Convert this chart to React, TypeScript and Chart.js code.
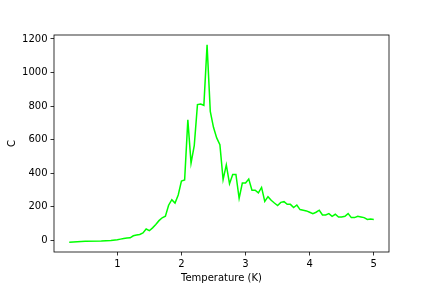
import React, { useEffect, useRef } from "react";
import { Chart, registerables } from "chart.js";

Chart.register(...registerables);

const temperatures = [
  0.25, 0.5, 0.75, 0.9, 1.0, 1.05, 1.1, 1.15, 1.2, 1.25, 1.3, 1.35, 1.4, 1.45, 1.5,
  1.55, 1.6, 1.65, 1.7, 1.75, 1.8, 1.85, 1.9, 1.95, 2.0, 2.05, 2.1, 2.15, 2.2, 2.25,
  2.3, 2.35, 2.4, 2.45, 2.5, 2.55, 2.6, 2.65, 2.7, 2.75, 2.8, 2.85, 2.9, 2.95, 3.0,
  3.05, 3.1, 3.15, 3.2, 3.25, 3.3, 3.35, 3.4, 3.45, 3.5, 3.55, 3.6, 3.65, 3.7, 3.75,
  3.8, 3.85, 3.9, 3.95, 4.0, 4.05, 4.1, 4.15, 4.2, 4.25, 4.3, 4.35, 4.4, 4.45, 4.5,
  4.55, 4.6, 4.65, 4.7, 4.75, 4.8, 4.85, 4.9, 4.95, 5.0,
];

const heatCapacity = [
  -10, -5, -3, 0, 4, 8, 12, 14, 16, 28, 32, 36, 45, 68, 58,
  75, 95, 118, 135, 145, 210, 243, 223, 271, 354, 360, 718, 461, 565, 809,
  813, 805, 1165, 769, 674, 611, 571, 362, 450, 338, 393, 393, 251, 342, 342,
  366, 299, 299, 283, 316, 233, 261, 239, 223, 208, 227, 231, 215, 215, 196,
  211, 184, 180, 176, 168, 160, 168, 180, 152, 152, 160, 144, 156, 140, 140,
  144, 160, 136, 136, 144, 140, 136, 125, 128, 125,
];

const xTicks = [1, 2, 3, 4, 5];
const yTicks = [0, 200, 400, 600, 800, 1000, 1200];

const frame = {
  id: "frame",
  afterDraw(chart: any) {
    const { ctx, chartArea } = chart;
    ctx.save();
    ctx.strokeStyle = "#000";
    ctx.lineWidth = 0.8;
    ctx.strokeRect(chartArea.left, chartArea.top, chartArea.right - chartArea.left, chartArea.bottom - chartArea.top);
    ctx.restore();
  },
};

export default function App() {
  const ref = useRef<HTMLCanvasElement>(null);
  useEffect(() => {
    const font = { family: "DejaVu Sans", size: 10 };
    const chart = new Chart(ref.current!, {
      type: "line",
      data: {
        datasets: [
          {
            data: temperatures.map((t, i) => ({ x: t, y: heatCapacity[i] })),
            borderColor: "#00ff00",
            borderWidth: 1.5,
            pointRadius: 0,
            tension: 0,
            fill: false,
          },
        ],
      },
      options: {
        responsive: false,
        animation: false,
        layout: { padding: { left: 0, right: 43, top: 35, bottom: 0 } },
        plugins: { legend: { display: false }, tooltip: { enabled: false } },
        scales: {
          x: {
            type: "linear",
            min: 0.0125,
            max: 5.2375,
            afterBuildTicks: (s: any) => {
              s.ticks = xTicks.map((v) => ({ value: v }));
            },
            afterFit: (s: any) => {
              s.height = 36;
            },
            grid: { drawOnChartArea: false, drawTicks: true, tickLength: 3.5, tickWidth: 0.8, tickColor: "#000" },
            border: { display: false },
            ticks: { color: "#000", font, padding: 3, maxRotation: 0, callback: (v: any) => String(v) },
            title: { display: true, text: "Temperature (K)", color: "#000", font, padding: { top: 0, bottom: 4 } },
          },
          y: {
            type: "linear",
            min: -68.75,
            max: 1223.75,
            afterBuildTicks: (s: any) => {
              s.ticks = yTicks.map((v) => ({ value: v }));
            },
            afterFit: (s: any) => {
              s.width = 54;
            },
            grid: { drawOnChartArea: false, drawTicks: true, tickLength: 3.5, tickWidth: 0.8, tickColor: "#000" },
            border: { display: false },
            ticks: { color: "#000", font, padding: 3, callback: (v: any) => String(v) },
            title: { display: true, text: "C", color: "#000", font, padding: { top: 6, bottom: 0 } },
          },
        },
      },
      plugins: [frame],
    });
    return () => chart.destroy();
  }, []);
  return (
    <div style={{ position: "fixed", left: 0, top: 0, width: 432, height: 288, background: "#fff" }}>
      <canvas ref={ref} width={432} height={288} />
    </div>
  );
}
